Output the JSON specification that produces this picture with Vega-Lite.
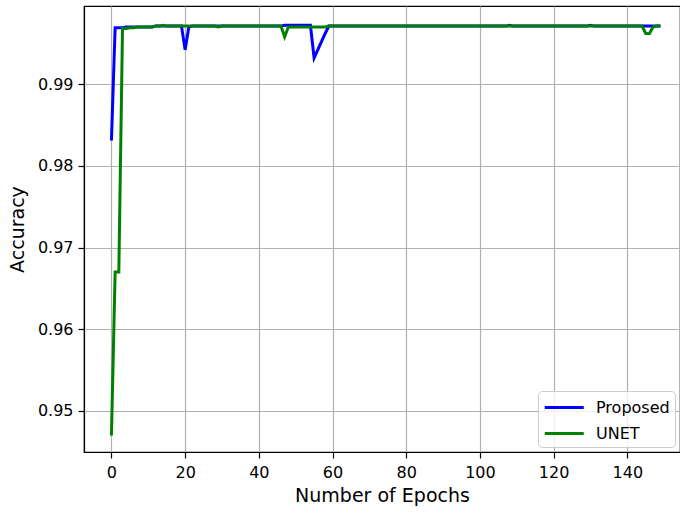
{
  "$schema": "https://vega.github.io/schema/vega-lite/v6.json",
  "width": 596,
  "height": 446,
  "autosize": {"type": "none"},
  "padding": {"left": 84, "top": 6, "right": 0, "bottom": 60},
  "background": "white",
  "config": {
    "font": "DejaVu Sans",
    "view": {"stroke": "black", "strokeWidth": 1.2},
    "axis": {
      "grid": true,
      "gridColor": "#b0b0b0",
      "gridWidth": 1.2,
      "domainColor": "black",
      "domainWidth": 1.2,
      "tickColor": "black",
      "tickSize": 6,
      "tickWidth": 1.2,
      "labelColor": "black",
      "labelFontSize": 16,
      "titleColor": "black",
      "titleFontSize": 19,
      "titleFontWeight": "normal"
    }
  },
  "data": {
    "values": [
      {"e":0,"Proposed":0.9831,"UNET":0.9470},
      {"e":1,"Proposed":0.9969,"UNET":0.9670},
      {"e":2,"Proposed":0.9969,"UNET":0.9670},
      {"e":3,"Proposed":0.9969,"UNET":0.9968},
      {"e":4,"Proposed":0.9970,"UNET":0.9968},
      {"e":5,"Proposed":0.9970,"UNET":0.9969},
      {"e":6,"Proposed":0.9970,"UNET":0.9969},
      {"e":7,"Proposed":0.9970,"UNET":0.9970},
      {"e":8,"Proposed":0.9970,"UNET":0.9970},
      {"e":9,"Proposed":0.9970,"UNET":0.9970},
      {"e":10,"Proposed":0.9970,"UNET":0.9970},
      {"e":11,"Proposed":0.9970,"UNET":0.9970},
      {"e":12,"Proposed":0.9971,"UNET":0.9971},
      {"e":13,"Proposed":0.9971,"UNET":0.9971},
      {"e":14,"Proposed":0.9971,"UNET":0.9972},
      {"e":15,"Proposed":0.9971,"UNET":0.9971},
      {"e":16,"Proposed":0.9971,"UNET":0.9971},
      {"e":17,"Proposed":0.9971,"UNET":0.9971},
      {"e":18,"Proposed":0.9971,"UNET":0.9971},
      {"e":19,"Proposed":0.9971,"UNET":0.9971},
      {"e":20,"Proposed":0.9942,"UNET":0.9971},
      {"e":21,"Proposed":0.9970,"UNET":0.9971},
      {"e":22,"Proposed":0.9971,"UNET":0.9971},
      {"e":23,"Proposed":0.9971,"UNET":0.9971},
      {"e":24,"Proposed":0.9971,"UNET":0.9971},
      {"e":25,"Proposed":0.9971,"UNET":0.9971},
      {"e":26,"Proposed":0.9971,"UNET":0.9971},
      {"e":27,"Proposed":0.9971,"UNET":0.9971},
      {"e":28,"Proposed":0.9971,"UNET":0.9971},
      {"e":29,"Proposed":0.9971,"UNET":0.9970},
      {"e":30,"Proposed":0.9971,"UNET":0.9971},
      {"e":31,"Proposed":0.9971,"UNET":0.9971},
      {"e":32,"Proposed":0.9971,"UNET":0.9971},
      {"e":33,"Proposed":0.9971,"UNET":0.9971},
      {"e":34,"Proposed":0.9971,"UNET":0.9971},
      {"e":35,"Proposed":0.9971,"UNET":0.9971},
      {"e":36,"Proposed":0.9971,"UNET":0.9971},
      {"e":37,"Proposed":0.9971,"UNET":0.9971},
      {"e":38,"Proposed":0.9971,"UNET":0.9971},
      {"e":39,"Proposed":0.9971,"UNET":0.9971},
      {"e":40,"Proposed":0.9971,"UNET":0.9971},
      {"e":41,"Proposed":0.9971,"UNET":0.9971},
      {"e":42,"Proposed":0.9971,"UNET":0.9971},
      {"e":43,"Proposed":0.9971,"UNET":0.9971},
      {"e":44,"Proposed":0.9971,"UNET":0.9971},
      {"e":45,"Proposed":0.9971,"UNET":0.9971},
      {"e":46,"Proposed":0.9971,"UNET":0.9971},
      {"e":47,"Proposed":0.9972,"UNET":0.9958},
      {"e":48,"Proposed":0.9972,"UNET":0.9970},
      {"e":49,"Proposed":0.9972,"UNET":0.9970},
      {"e":50,"Proposed":0.9972,"UNET":0.9970},
      {"e":51,"Proposed":0.9972,"UNET":0.9970},
      {"e":52,"Proposed":0.9972,"UNET":0.9970},
      {"e":53,"Proposed":0.9972,"UNET":0.9970},
      {"e":54,"Proposed":0.9972,"UNET":0.9970},
      {"e":55,"Proposed":0.9932,"UNET":0.9970},
      {"e":56,"Proposed":0.9942,"UNET":0.9970},
      {"e":57,"Proposed":0.9952,"UNET":0.9970},
      {"e":58,"Proposed":0.9962,"UNET":0.9970},
      {"e":59,"Proposed":0.9971,"UNET":0.9971},
      {"e":60,"Proposed":0.9971,"UNET":0.9971},
      {"e":61,"Proposed":0.9971,"UNET":0.9971},
      {"e":62,"Proposed":0.9971,"UNET":0.9971},
      {"e":63,"Proposed":0.9971,"UNET":0.9971},
      {"e":64,"Proposed":0.9971,"UNET":0.9971},
      {"e":65,"Proposed":0.9971,"UNET":0.9971},
      {"e":66,"Proposed":0.9971,"UNET":0.9971},
      {"e":67,"Proposed":0.9971,"UNET":0.9971},
      {"e":68,"Proposed":0.9971,"UNET":0.9971},
      {"e":69,"Proposed":0.9971,"UNET":0.9971},
      {"e":70,"Proposed":0.9971,"UNET":0.9971},
      {"e":71,"Proposed":0.9971,"UNET":0.9971},
      {"e":72,"Proposed":0.9971,"UNET":0.9971},
      {"e":73,"Proposed":0.9971,"UNET":0.9971},
      {"e":74,"Proposed":0.9971,"UNET":0.9971},
      {"e":75,"Proposed":0.9971,"UNET":0.9971},
      {"e":76,"Proposed":0.9971,"UNET":0.9971},
      {"e":77,"Proposed":0.9971,"UNET":0.9971},
      {"e":78,"Proposed":0.9971,"UNET":0.9971},
      {"e":79,"Proposed":0.9971,"UNET":0.9971},
      {"e":80,"Proposed":0.9971,"UNET":0.9971},
      {"e":81,"Proposed":0.9971,"UNET":0.9971},
      {"e":82,"Proposed":0.9971,"UNET":0.9971},
      {"e":83,"Proposed":0.9971,"UNET":0.9971},
      {"e":84,"Proposed":0.9971,"UNET":0.9971},
      {"e":85,"Proposed":0.9971,"UNET":0.9971},
      {"e":86,"Proposed":0.9971,"UNET":0.9971},
      {"e":87,"Proposed":0.9971,"UNET":0.9971},
      {"e":88,"Proposed":0.9971,"UNET":0.9971},
      {"e":89,"Proposed":0.9971,"UNET":0.9971},
      {"e":90,"Proposed":0.9971,"UNET":0.9971},
      {"e":91,"Proposed":0.9971,"UNET":0.9971},
      {"e":92,"Proposed":0.9971,"UNET":0.9971},
      {"e":93,"Proposed":0.9971,"UNET":0.9971},
      {"e":94,"Proposed":0.9971,"UNET":0.9971},
      {"e":95,"Proposed":0.9971,"UNET":0.9971},
      {"e":96,"Proposed":0.9971,"UNET":0.9971},
      {"e":97,"Proposed":0.9971,"UNET":0.9971},
      {"e":98,"Proposed":0.9971,"UNET":0.9971},
      {"e":99,"Proposed":0.9971,"UNET":0.9971},
      {"e":100,"Proposed":0.9971,"UNET":0.9971},
      {"e":101,"Proposed":0.9971,"UNET":0.9971},
      {"e":102,"Proposed":0.9971,"UNET":0.9971},
      {"e":103,"Proposed":0.9971,"UNET":0.9971},
      {"e":104,"Proposed":0.9971,"UNET":0.9971},
      {"e":105,"Proposed":0.9971,"UNET":0.9971},
      {"e":106,"Proposed":0.9971,"UNET":0.9971},
      {"e":107,"Proposed":0.9971,"UNET":0.9971},
      {"e":108,"Proposed":0.9972,"UNET":0.9971},
      {"e":109,"Proposed":0.9971,"UNET":0.9971},
      {"e":110,"Proposed":0.9971,"UNET":0.9971},
      {"e":111,"Proposed":0.9971,"UNET":0.9971},
      {"e":112,"Proposed":0.9971,"UNET":0.9971},
      {"e":113,"Proposed":0.9971,"UNET":0.9971},
      {"e":114,"Proposed":0.9971,"UNET":0.9971},
      {"e":115,"Proposed":0.9971,"UNET":0.9971},
      {"e":116,"Proposed":0.9971,"UNET":0.9971},
      {"e":117,"Proposed":0.9971,"UNET":0.9971},
      {"e":118,"Proposed":0.9971,"UNET":0.9971},
      {"e":119,"Proposed":0.9971,"UNET":0.9971},
      {"e":120,"Proposed":0.9971,"UNET":0.9971},
      {"e":121,"Proposed":0.9971,"UNET":0.9971},
      {"e":122,"Proposed":0.9971,"UNET":0.9971},
      {"e":123,"Proposed":0.9971,"UNET":0.9971},
      {"e":124,"Proposed":0.9971,"UNET":0.9971},
      {"e":125,"Proposed":0.9971,"UNET":0.9971},
      {"e":126,"Proposed":0.9971,"UNET":0.9971},
      {"e":127,"Proposed":0.9971,"UNET":0.9971},
      {"e":128,"Proposed":0.9971,"UNET":0.9971},
      {"e":129,"Proposed":0.9971,"UNET":0.9971},
      {"e":130,"Proposed":0.9972,"UNET":0.9971},
      {"e":131,"Proposed":0.9971,"UNET":0.9971},
      {"e":132,"Proposed":0.9971,"UNET":0.9971},
      {"e":133,"Proposed":0.9971,"UNET":0.9971},
      {"e":134,"Proposed":0.9971,"UNET":0.9971},
      {"e":135,"Proposed":0.9971,"UNET":0.9971},
      {"e":136,"Proposed":0.9971,"UNET":0.9971},
      {"e":137,"Proposed":0.9971,"UNET":0.9971},
      {"e":138,"Proposed":0.9971,"UNET":0.9971},
      {"e":139,"Proposed":0.9971,"UNET":0.9971},
      {"e":140,"Proposed":0.9971,"UNET":0.9971},
      {"e":141,"Proposed":0.9971,"UNET":0.9971},
      {"e":142,"Proposed":0.9971,"UNET":0.9971},
      {"e":143,"Proposed":0.9971,"UNET":0.9971},
      {"e":144,"Proposed":0.9971,"UNET":0.9971},
      {"e":145,"Proposed":0.9971,"UNET":0.9962},
      {"e":146,"Proposed":0.9971,"UNET":0.9962},
      {"e":147,"Proposed":0.9971,"UNET":0.9970},
      {"e":148,"Proposed":0.9971,"UNET":0.9971},
      {"e":149,"Proposed":0.9971,"UNET":0.9971}
    ]
  },
  "transform": [
    {"fold": ["Proposed", "UNET"], "as": ["Model", "Accuracy"]}
  ],
  "mark": {"type": "line", "strokeWidth": 3},
  "encoding": {
    "x": {
      "field": "e",
      "type": "quantitative",
      "scale": {"domain": [-7.45, 154.3], "nice": false, "zero": false},
      "axis": {"values": [0, 20, 40, 60, 80, 100, 120, 140], "title": "Number of Epochs", "labelPadding": 6, "titlePadding": 6}
    },
    "y": {
      "field": "Accuracy",
      "type": "quantitative",
      "scale": {"domain": [0.94498, 0.99956], "nice": false, "zero": false},
      "axis": {"values": [0.95, 0.96, 0.97, 0.98, 0.99], "format": ".2f", "title": "Accuracy", "labelPadding": 5, "titlePadding": 10}
    },
    "color": {
      "field": "Model",
      "type": "nominal",
      "scale": {"domain": ["Proposed", "UNET"], "range": ["#0000ff", "#008000"]},
      "legend": {
        "title": null,
        "orient": "none",
        "legendX": 454,
        "legendY": 385,
        "symbolType": "M-1,0H3",
        "symbolSize": 380,
        "symbolStrokeWidth": 3,
        "labelFontSize": 16,
        "labelColor": "black",
        "labelOffset": 30,
        "rowPadding": 6,
        "padding": 5,
        "fillColor": "rgba(255,255,255,0.8)",
        "strokeColor": "#cccccc",
        "cornerRadius": 4
      }
    }
  }
}
